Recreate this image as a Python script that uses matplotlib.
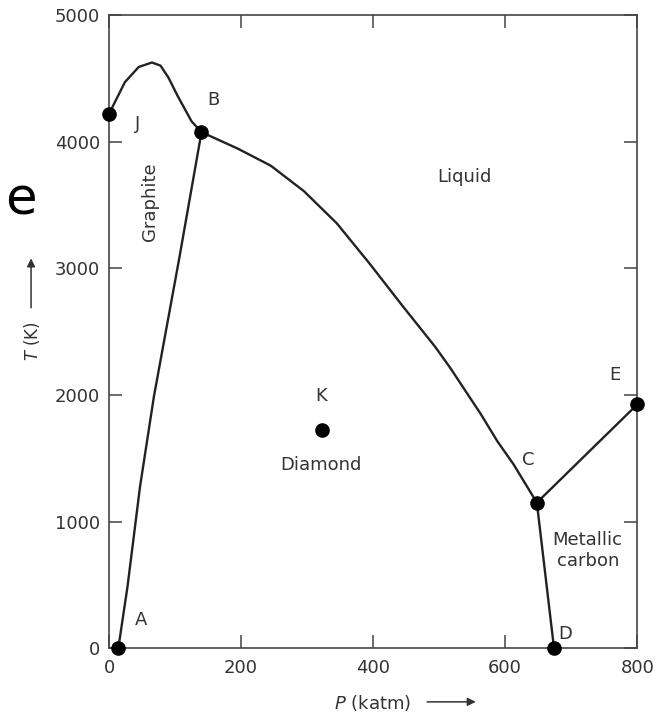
import matplotlib
matplotlib.use('Agg')
import matplotlib.pyplot as plt

# phase boundaries of carbon, P in katm, T in K
melt_graphite_P = [0, 24, 45, 65, 78, 90, 104, 125, 140]
melt_graphite_T = [4220, 4470, 4590, 4625, 4600, 4505, 4360, 4160, 4075]

graphite_diamond_P = [14, 28, 47, 68, 106, 140]
graphite_diamond_T = [0, 490, 1280, 1990, 3070, 4075]

melt_diamond_P = [140, 195, 245, 295, 345, 395, 445, 494, 516, 563, 588, 613, 648]
melt_diamond_T = [4075, 3945, 3810, 3610, 3355, 3035, 2700, 2380, 2220, 1850, 1636, 1450, 1150]

melt_metal_P = [648, 800]
melt_metal_T = [1150, 1925]

diamond_metal_P = [648, 674]
diamond_metal_T = [1150, 0]

point_names = ['J', 'B', 'A', 'C', 'D', 'E', 'K']
point_P = [0, 140, 14, 648, 674, 800, 322]
point_T = [4220, 4075, 0, 1150, 0, 1925, 1725]
label_P = [43, 158, 48, 635, 691, 766, 321]
label_T = [4140, 4330, 225, 1490, 110, 2160, 1990]

line_col = '#222222'
text_col = '#333333'


def Draw():
    fig = plt.figure(figsize=(6.61, 7.14), dpi=100)
    ax = fig.add_axes([0.165, 0.092, 0.799, 0.887])

    for px, ty in [(melt_graphite_P, melt_graphite_T),
                   (graphite_diamond_P, graphite_diamond_T),
                   (melt_diamond_P, melt_diamond_T),
                   (melt_metal_P, melt_metal_T),
                   (diamond_metal_P, diamond_metal_T)]:
        ax.plot(px, ty, '-', color=line_col, lw=1.7, clip_on=False, zorder=3,
                solid_joinstyle='round')

    ax.plot(point_P, point_T, 'o', color='black', ms=9.5, clip_on=False, zorder=4)
    for name, x, y in zip(point_names, label_P, label_T):
        ax.text(x, y, name, fontsize=13, color=text_col, ha='center', va='center')

    ax.text(538, 3720, 'Liquid', fontsize=13, color=text_col, ha='center', va='center')
    ax.text(62, 3530, 'Graphite', fontsize=13, color=text_col, ha='center', va='center',
            rotation=90)
    ax.text(321, 1450, 'Diamond', fontsize=13, color=text_col, ha='center', va='center')
    ax.text(725, 775, 'Metallic\ncarbon', fontsize=13, color=text_col, ha='center',
            va='center', linespacing=1.2)

    ax.set_xlim(0, 800)
    ax.set_ylim(0, 5000)
    ax.set_xticks([0, 200, 400, 600, 800])
    ax.set_yticks([0, 1000, 2000, 3000, 4000, 5000])
    ax.tick_params(direction='in', length=9.5, width=1.1, colors='#444444',
                   labelcolor=text_col, labelsize=13, top=True, right=True)
    ax.tick_params(axis='x', pad=8)
    ax.tick_params(axis='y', pad=6.5)
    ax.tick_params(labeltop=False, labelright=False)
    for s in ax.spines.values():
        s.set_color('#444444')
        s.set_linewidth(1.2)

    # axis titles with arrows
    fig.text(0.048, 0.522, r'$T$ (K)', fontsize=12, color=text_col, rotation=90,
             ha='center', va='center')
    fig.add_artist(matplotlib.patches.FancyArrowPatch(
        (0.047, 0.565), (0.047, 0.642), transform=fig.transFigure,
        arrowstyle='-|>', mutation_scale=12, color=text_col, lw=1.1))
    fig.text(0.563, 0.016, r'$P$ (katm)', fontsize=13, color=text_col,
             ha='center', va='center')
    fig.add_artist(matplotlib.patches.FancyArrowPatch(
        (0.642, 0.017), (0.724, 0.017), transform=fig.transFigure,
        arrowstyle='-|>', mutation_scale=12, color=text_col, lw=1.1))

    # stray letter cut off at the left edge of the scan
    fig.text(0.032, 0.699, 'e', fontsize=37, color='black', ha='center', va='baseline')

    fig.savefig('out.png', dpi=100)


def main():
    Draw()

if __name__ == '__main__':
    main()
